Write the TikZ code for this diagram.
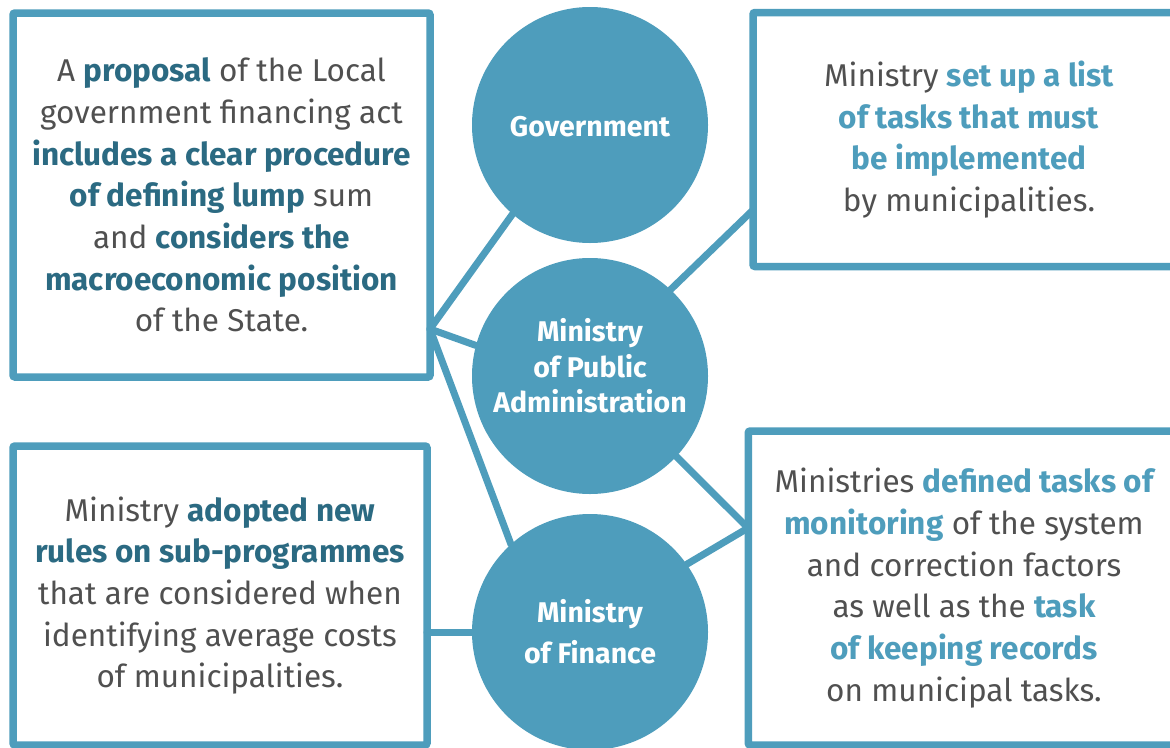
\documentclass[tikz,border=0pt]{standalone}
\usepackage{fontspec}
\setmainfont{Fira Sans}
\usepackage{tikz}
\definecolor{ecblue}{RGB}{78,157,188}
\definecolor{ecteal}{RGB}{43,106,130}
\definecolor{ecgray}{RGB}{80,80,80}
\newcommand{\keydark}[1]{\textbf{\color{ecteal}#1}}
\newcommand{\keylight}[1]{\textbf{\color{ecblue}#1}}

\begin{document}
\begin{tikzpicture}[x=1pt, y=-1pt,
  infobox/.style = {draw=ecblue, line width=7.5pt, rounded corners=2pt, fill=white,
    text=ecgray, align=center, inner sep=0pt,
    font=\fontsize{31.5}{41.7}\selectfont},
  actor/.style = {circle, fill=ecblue, minimum size=236pt, inner sep=0pt},
  actortext/.style = {text=white, align=center,
    font=\bfseries\fontsize{28.5}{35.5}\selectfont},
  link/.style = {draw=ecblue, line width=7pt, line cap=round}]
\useasboundingbox (0,0) rectangle (1170,747);

\node[infobox, minimum width=417pt, minimum height=364pt] (law) at (221.5,195)
  {A \keydark{proposal} of the Local\\ government financing act\\
   \keydark{includes a clear procedure}\\ \keydark{of defining lump} sum\\
   and \keydark{considers the}\\ \keydark{macroeconomic position}\\ of the State.};
\node[infobox, minimum width=414pt, minimum height=299pt] (rules) at (220,595.5)
  {Ministry \keydark{adopted new}\\ \keydark{rules on sub-programmes}\\
   that are considered when\\ identifying average costs\\ of municipalities.};
\node[infobox, minimum width=432pt, minimum height=254pt] (list) at (969,139.5)
  {Ministry \keylight{set up a list}\\ \keylight{of tasks that must}\\
   \keylight{be implemented}\\ by municipalities.};
\node[infobox, minimum width=431.5pt, minimum height=314pt] (monitor) at (964,588)
  {Ministries \keylight{defined tasks of}\\ \keylight{monitoring} of the system\\
   and correction factors\\ as well as the \keylight{task}\\
   \keylight{of keeping records}\\ on municipal tasks.};

\node[actor] (gov) at (590,125) {};
\node[actor] (mpa) at (590,376) {};
\node[actor] (fin) at (590,632) {};
\node[actortext] (govtext) at ([yshift=-2pt]gov.center) {Government};
\node[actortext] (mpatext) at ([yshift=10pt]mpa.center)
  {Ministry\\ of Public\\ Administration};
\node[actortext] (fintext) at (fin.center) {Ministry\\[5.5pt] of Finance};

\coordinate (hub) at (430,329);
\coordinate (listin) at (753,210);
\coordinate (monin) at (748,528);
\coordinate (rulesout) at (427,632);

\draw[link] (hub) -- (gov.-131);
\draw[link] (hub) -- (mpa.165);
\draw[link] (hub) -- (fin.132);
\draw[link] (mpa.47) -- (listin);
\draw[link] (mpa.-43) -- (monin);
\draw[link] (fin.35) -- (monin);
\draw[link] (rulesout) -- (fin.180);
\end{tikzpicture}
\end{document}
